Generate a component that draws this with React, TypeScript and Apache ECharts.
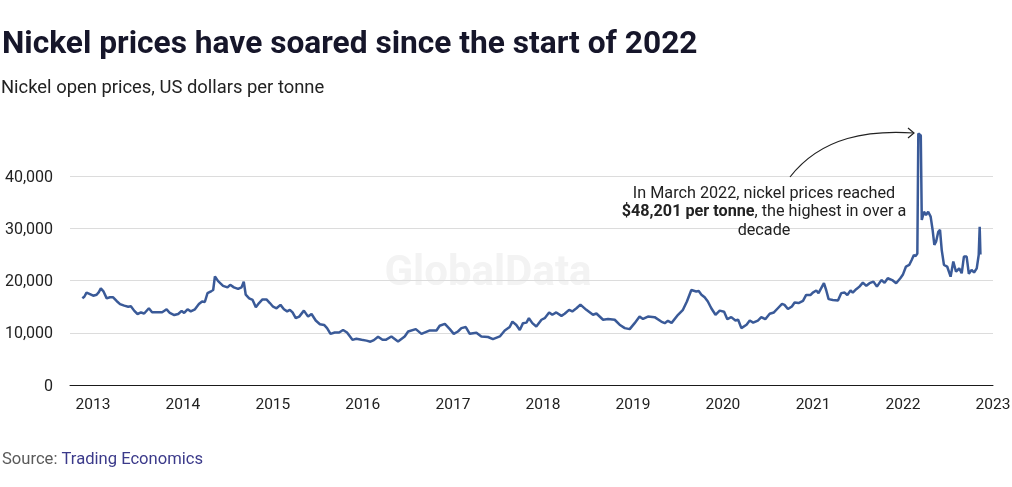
import React, { useEffect, useRef } from 'react';
import * as echarts from 'echarts';

const dates = [
  '2012-11-19','2012-11-27','2012-12-06','2012-12-20','2013-01-02','2013-01-16','2013-01-25','2013-02-02','2013-02-12','2013-02-26',
  '2013-03-11','2013-03-24','2013-04-07','2013-04-21','2013-05-08','2013-05-24','2013-06-04','2013-06-18','2013-07-01','2013-07-15',
  '2013-07-28','2013-08-16','2013-08-29','2013-09-16','2013-10-09','2013-10-27','2013-11-09','2013-11-27','2013-12-13','2013-12-27',
  '2014-01-06','2014-01-20','2014-02-02','2014-02-19','2014-03-07','2014-03-20','2014-03-31','2014-04-11','2014-04-27','2014-05-04',
  '2014-05-11','2014-05-24','2014-06-13','2014-07-01','2014-07-12','2014-07-27','2014-08-13','2014-08-27','2014-09-05','2014-09-13',
  '2014-09-27','2014-10-11','2014-10-24','2014-11-06','2014-11-20','2014-12-06','2014-12-20','2015-01-02','2015-01-16','2015-02-01',
  '2015-02-15','2015-02-28','2015-03-11','2015-03-22','2015-04-04','2015-04-18','2015-05-07','2015-05-24','2015-06-07','2015-06-24',
  '2015-07-11','2015-07-28','2015-08-09','2015-08-23','2015-09-09','2015-09-27','2015-10-13','2015-10-29','2015-11-20','2015-12-06',
  '2015-12-27','2016-01-16','2016-02-01','2016-02-15','2016-03-03','2016-03-21','2016-04-03','2016-04-26','2016-05-23','2016-06-19',
  '2016-07-03','2016-08-03','2016-08-26','2016-09-29','2016-10-26','2016-11-08','2016-11-29','2016-12-19','2017-01-04','2017-01-21',
  '2017-02-04','2017-02-22','2017-03-10','2017-04-06','2017-04-26','2017-05-23','2017-06-12','2017-07-10','2017-07-30','2017-08-19',
  '2017-08-30','2017-09-15','2017-09-29','2017-10-12','2017-10-26','2017-11-05','2017-11-19','2017-12-05','2017-12-26','2018-01-08',
  '2018-01-26','2018-02-08','2018-02-24','2018-03-17','2018-03-30','2018-04-17','2018-04-30','2018-05-17','2018-06-02','2018-06-26',
  '2018-07-23','2018-08-06','2018-09-02','2018-09-22','2018-10-19','2018-11-08','2018-11-29','2018-12-19','2019-01-08','2019-01-28',
  '2019-02-11','2019-03-03','2019-03-30','2019-04-26','2019-05-10','2019-05-23','2019-06-07','2019-07-03','2019-07-23','2019-08-08',
  '2019-08-26','2019-09-15','2019-09-25','2019-10-06','2019-10-19','2019-11-01','2019-11-15','2019-12-02','2019-12-19','2020-01-06',
  '2020-01-19','2020-02-04','2020-02-21','2020-03-03','2020-03-16','2020-04-06','2020-04-19','2020-05-03','2020-05-22','2020-06-05',
  '2020-06-21','2020-07-09','2020-07-26','2020-08-11','2020-08-28','2020-09-07','2020-09-21','2020-10-07','2020-10-18','2020-11-03',
  '2020-11-21','2020-12-04','2020-12-22','2020-12-31','2021-01-14','2021-01-23','2021-02-03','2021-02-14','2021-02-23','2021-03-05',
  '2021-03-22','2021-04-12','2021-04-25','2021-05-09','2021-05-20','2021-06-02','2021-06-11','2021-06-25','2021-07-08','2021-07-22',
  '2021-08-05','2021-08-18','2021-09-03','2021-09-17','2021-10-05','2021-10-18','2021-10-31','2021-11-18','2021-12-04','2021-12-21',
  '2021-12-31','2022-01-13','2022-01-26','2022-02-05','2022-02-14','2022-02-21','2022-02-28','2022-03-04','2022-03-14','2022-03-18',
  '2022-03-27','2022-04-04','2022-04-13','2022-04-23','2022-05-01','2022-05-08','2022-05-15','2022-05-24','2022-05-31','2022-06-07',
  '2022-06-16','2022-06-29','2022-07-13','2022-07-24','2022-08-04','2022-08-17','2022-08-27','2022-09-05','2022-09-16','2022-09-25',
  '2022-10-06','2022-10-16','2022-10-27','2022-11-04','2022-11-08','2022-11-11'
];

const prices = [
  16600,16900,17700,17400,17100,17300,17800,18500,18000,16600,
  16800,16800,16100,15500,15200,15000,15100,14200,13600,13900,
  13700,14700,13950,13950,13950,14500,13800,13400,13600,14200,
  13800,14500,14100,14500,15500,16000,15900,17600,18000,18200,
  20800,19900,19000,18700,19200,18700,18400,18700,19800,17300,
  16600,16300,14900,15700,16400,16400,15700,15000,14700,15350,
  14500,14100,14400,13900,12800,13100,14250,13100,13600,12350,
  11650,11500,10900,9800,10050,10050,10550,10050,8650,8850,
  8650,8500,8300,8600,9250,8650,8650,9300,8350,9300,
  10250,10700,9800,10450,10450,11350,11700,10700,9800,10250,
  10900,11100,9800,10000,9300,9200,8800,9300,10450,11100,
  12150,11500,10550,11850,11950,12800,11850,11200,12500,12800,
  13900,13450,13900,13250,13650,14400,14100,14700,15400,14400,
  13450,13700,12500,12650,12500,11550,10900,10700,11850,13100,
  12650,13100,13000,12150,11850,12300,11900,13450,14400,16000,
  18200,17900,18000,17300,16800,16000,14700,13450,14250,14050,
  12600,13000,12350,12500,10900,11550,12350,11950,12350,13000,
  12600,13650,13900,14700,15550,15350,14550,15050,15800,15700,
  16100,17250,17250,17700,18100,17600,18550,19500,18200,16450,
  16300,16200,17600,17700,17250,18100,17700,18350,18850,19600,
  19000,19500,19800,18850,20100,19600,20450,20100,19500,20450,
  21100,22700,23000,23950,24900,24700,25200,48201,47800,31600,
  33200,32550,33200,32250,29700,26850,27450,29350,29700,25850,
  23000,22700,20750,23650,21700,22350,21400,24600,24600,21300,
  22050,21550,22350,24900,30300,25000
];

const yearLabels = [2013, 2014, 2015, 2016, 2017, 2018, 2019, 2020, 2021, 2022, 2023];
const yTicks = [0, 10000, 20000, 30000, 40000];

const titleText = 'Nickel prices have soared since the start of 2022';
const subtitleText = 'Nickel open prices, US dollars per tonne';
const noteText = 'In March 2022, nickel prices reached\n{b|$48,201 per tonne}, the highest in over a\ndecade';

const toTime = (s: string) => {
  const [y, m, d] = s.split('-').map(Number);
  return Date.UTC(y, m - 1, d);
};

export default function App() {
  const ref = useRef<HTMLDivElement>(null);
  useEffect(() => {
    document.body.style.margin = '0';
    const chart = echarts.init(ref.current!, null, { renderer: 'svg' });
    const font = 'Roboto, "Noto Sans", sans-serif';
    chart.setOption({
      animation: false,
      textStyle: { fontFamily: font },
      grid: { left: 70, right: 19, top: 124, bottom: 102, outerBoundsMode: 'none' },
      xAxis: {
        type: 'value',
        min: Date.UTC(2012, 8, 30),
        max: Date.UTC(2023, 0, 1),
        axisLine: { show: true, onZero: false, lineStyle: { color: '#1a1a1a', width: 1 } },
        axisTick: { show: false },
        splitLine: { show: false },
        axisLabel: {
          customValues: yearLabels.map((y) => Date.UTC(y, 0, 1)),
          formatter: (v: number) => String(new Date(v).getUTCFullYear()),
          color: '#222222',
          fontSize: 15.5,
          fontFamily: font,
          margin: 11,
        },
      },
      yAxis: {
        type: 'value',
        min: 0,
        max: 50000,
        interval: 10000,
        axisLine: { show: false },
        axisTick: { show: false },
        axisLabel: {
          customValues: yTicks,
          formatter: (v: number) => v.toLocaleString('en-US'),
          color: '#222222',
          fontSize: 16,
          fontFamily: font,
          margin: 17,
        },
        splitLine: {
          show: true,
          lineStyle: {
            color: ['#dcdcdc', '#dcdcdc', '#dcdcdc', '#dcdcdc', '#dcdcdc', 'rgba(0,0,0,0)'],
            width: 1,
          },
        },
      },
      series: [
        {
          type: 'line',
          data: dates.map((d, i) => [toTime(d), prices[i]]),
          showSymbol: false,
          symbol: 'none',
          lineStyle: { color: '#3a5a98', width: 2.5 },
          z: 5,
        },
      ],
      graphic: [
        {
          type: 'text', x: 2, y: 42, z: 10,
          style: { text: titleText, fontSize: 31.7, fontWeight: 'bold', fill: '#16162a', fontFamily: font, verticalAlign: 'middle' },
        },
        {
          type: 'text', x: 1, y: 86, z: 10,
          style: { text: subtitleText, fontSize: 18.4, fill: '#222222', fontFamily: font, verticalAlign: 'middle' },
        },
        {
          type: 'text', x: 488, y: 270, z: 0,
          style: { text: 'GlobalData', fontSize: 42, fontWeight: 'bold', fill: '#f3f3f3', fontFamily: font, align: 'center', verticalAlign: 'middle' },
        },
        {
          type: 'text', x: 764, y: 183.5, z: 10,
          style: {
            text: noteText, fontSize: 16.2, fill: '#222222', fontFamily: font, align: 'center', verticalAlign: 'top', lineHeight: 18.3,
            rich: { b: { fontWeight: 'bold', fontSize: 16.2, fill: '#222222', fontFamily: font } },
          },
        },
        {
          type: 'bezierCurve', z: 10,
          shape: { x1: 790, y1: 177, x2: 914, y2: 133, cpx1: 822, cpy1: 136, cpx2: 870, cpy2: 130 },
          style: { stroke: '#222222', lineWidth: 1.2, fill: 'none' },
        },
        {
          type: 'polyline', z: 10,
          shape: { points: [[908, 128], [914, 133], [908, 138]] },
          style: { stroke: '#222222', lineWidth: 1.2, fill: 'none' },
        },
        {
          type: 'text', x: 2, y: 458, z: 10,
          style: {
            text: '{g|Source: }{b|Trading Economics}', verticalAlign: 'middle', fontSize: 16.6,
            rich: {
              g: { fill: '#5a5a5a', fontSize: 16.6, fontFamily: font },
              b: { fill: '#3b3a8a', fontSize: 16.6, fontFamily: font },
            },
          },
        },
      ],
    });
    return () => chart.dispose();
  }, []);
  return <div ref={ref} style={{ position: 'fixed', left: 0, top: 0, width: 1012, height: 487 }} />;
}
